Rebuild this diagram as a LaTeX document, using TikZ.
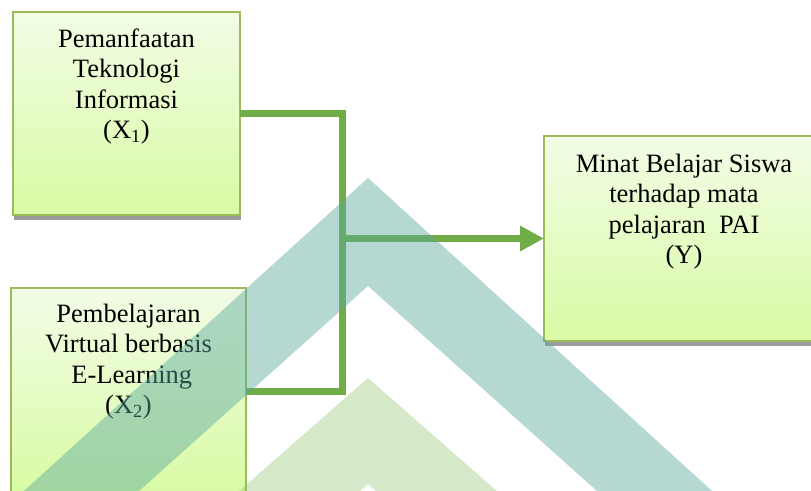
\documentclass[tikz,border=0pt]{standalone}
\usepackage{fontspec}
\setmainfont{Liberation Serif}
\usetikzlibrary{arrows.meta,shadows}
\definecolor{boxtop}{HTML}{F2FCE6}
\definecolor{boxbot}{HTML}{D9FBA4}
\definecolor{boxedge}{HTML}{9BBB59}
\definecolor{linkgreen}{HTML}{70AD47}
\definecolor{wmteal}{HTML}{5AA89E}
\definecolor{wmgreen}{HTML}{8CC068}
\definecolor{shadowgray}{HTML}{9C9C9C}
\begin{document}
\begin{tikzpicture}[x=1pt,y=-1pt,
  varbox/.style={draw=boxedge, line width=1.5pt, top color=boxtop, bottom color=boxbot,
    inner sep=0pt, outer sep=0pt, anchor=north west,
    drop shadow={shadow xshift=0.5pt, shadow yshift=-5pt, fill=shadowgray, opacity=1},
    font=\fontsize{26.5}{30.5}\selectfont},
  link/.style={draw=linkgreen, line width=7pt},
  tealmark/.style={fill=wmteal, opacity=0.45},
  greenmark/.style={fill=wmgreen, opacity=0.37}]
\useasboundingbox (0,0) rectangle (811,490);
% boxes
\node[varbox] (x1) at (13,12)
  {\parbox[t][203pt][t]{227pt}{\centering\rule{0pt}{35pt}Pemanfaatan\\Teknologi\\Informasi\\(X\textsubscript{1})}};
\node[varbox] (x2) at (11,288)
  {\parbox[t][206pt][t]{235pt}{\centering\rule{0pt}{34pt}Pembelajaran\\Virtual berbasis\\\ E-Learning\\(X\textsubscript{2})}};
\node[varbox] (y) at (544,136)
  {\parbox[t][205pt][t]{280pt}{\centering\rule{0pt}{36pt}Minat Belajar Siswa\\terhadap mata\\pelajaran\ \ PAI\\(Y)}};
% connectors
\coordinate (bus) at (342,0);
\draw[link] (x1.east) -| (bus |- x2.east) -- (x2.east);
\draw[link, -{Triangle[width=24pt,length=24pt]}] (bus |- y.west) -- (y.west);
% watermark
\fill[tealmark] (14,500) -- (368,178) -- (722,500) -- (607,500) -- (368,286) -- (129,500) -- cycle;
\fill[greenmark] (229,500) -- (368,378) -- (507,500) -- (386,500) -- (368,484) -- (350,500) -- cycle;
\end{tikzpicture}
\end{document}
